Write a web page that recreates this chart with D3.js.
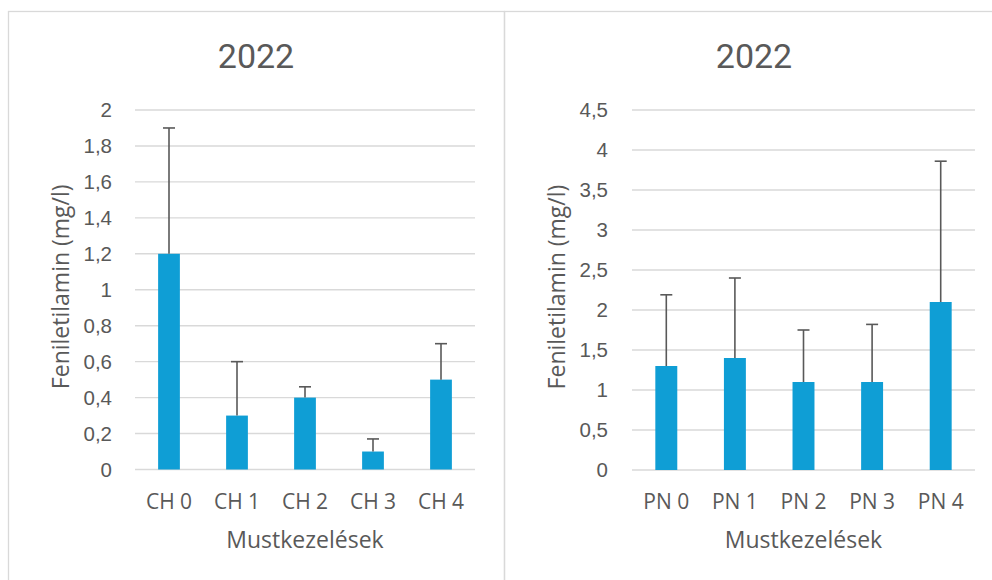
<!DOCTYPE html>
<html><head><meta charset="utf-8">
<script src="https://cdn.jsdelivr.net/npm/d3@7"></script>
<style>html,body{margin:0;padding:0;background:#fff;}svg{display:block;}</style>
</head><body>
<svg id="c" width="992" height="580"></svg>
<script>
const chTitle = "2022";
const pnTitle = "2022";
const yTitle = "Feniletilamin (mg/l)";
const xTitle = "Mustkezelések";

const chCategories = ["CH 0", "CH 1", "CH 2", "CH 3", "CH 4"];
const chValues = [1.2, 0.3, 0.4, 0.1, 0.5];
const chErrTop = [1.9, 0.6, 0.46, 0.17, 0.7];
const chTicks = [0, 0.2, 0.4, 0.6, 0.8, 1, 1.2, 1.4, 1.6, 1.8, 2];

const pnCategories = ["PN 0", "PN 1", "PN 2", "PN 3", "PN 4"];
const pnValues = [1.3, 1.4, 1.1, 1.1, 2.1];
const pnErrTop = [2.19, 2.4, 1.75, 1.82, 3.86];
const pnTicks = [0, 0.5, 1, 1.5, 2, 2.5, 3, 3.5, 4, 4.5];

const svg = d3.select("#c");
const fmt = v => String(v).replace(".", ",");
const GRID = "#d9d9d9", TXT = "#595959", BAR = "#0f9ed5", ERR = "#595959";

// panel borders
svg.append("rect").attr("x", 8.5).attr("y", 11.5).attr("width", 496).attr("height", 600)
  .attr("fill", "none").attr("stroke", GRID).attr("stroke-width", 1.3);
svg.append("rect").attr("x", 504.5).attr("y", 11.5).attr("width", 520).attr("height", 600)
  .attr("fill", "none").attr("stroke", GRID).attr("stroke-width", 1.3);

function panel(o) {
  const g = svg.append("g");
  const x = d3.scaleBand().domain(o.cats).range([o.x0, o.x1]).paddingInner(0.68).paddingOuter(0.34);
  const y = d3.scaleLinear().domain([0, o.ticks[o.ticks.length - 1]]).range([o.yb, o.yt]);

  // gridlines
  g.append("g").selectAll("line").data(o.ticks).join("line")
    .attr("x1", o.x0).attr("x2", o.x1)
    .attr("y1", d => y(d)).attr("y2", d => y(d))
    .attr("stroke", GRID).attr("stroke-width", 1.4);

  // y axis tick labels
  const ya = d3.axisLeft(y).tickValues(o.ticks).tickFormat(fmt).tickSize(0).tickPadding(0);
  const yg = g.append("g").attr("transform", `translate(${o.labX},0)`).call(ya);
  yg.select(".domain").remove();
  yg.selectAll("text").attr("fill", TXT).style("font-family", "'Liberation Sans', Arial, sans-serif").style("font-size", "20.5px");

  // bars
  g.append("g").selectAll("rect").data(o.vals).join("rect")
    .attr("x", (d, i) => x(o.cats[i])).attr("width", x.bandwidth())
    .attr("y", d => y(d)).attr("height", d => y(0) - y(d))
    .attr("fill", BAR);

  // error bars
  const eg = g.append("g").attr("stroke", ERR).attr("stroke-width", 1.6);
  eg.selectAll("line.v").data(o.err).join("line").attr("class", "v")
    .attr("x1", (d, i) => x(o.cats[i]) + x.bandwidth() / 2)
    .attr("x2", (d, i) => x(o.cats[i]) + x.bandwidth() / 2)
    .attr("y1", (d, i) => y(o.vals[i])).attr("y2", d => y(d));
  eg.selectAll("line.c").data(o.err).join("line").attr("class", "c")
    .attr("x1", (d, i) => x(o.cats[i]) + x.bandwidth() / 2 - 6)
    .attr("x2", (d, i) => x(o.cats[i]) + x.bandwidth() / 2 + 6)
    .attr("y1", d => y(d)).attr("y2", d => y(d));

  // x axis labels
  const xa = d3.axisBottom(x).tickSize(0).tickPadding(0);
  const xg = g.append("g").attr("transform", `translate(0,${o.yb + 39})`).call(xa);
  xg.select(".domain").remove();
  xg.selectAll("text").attr("fill", TXT).attr("dy", 0)
    .style("font-family", "'Open Sans', sans-serif").style("font-size", "21px");

  // titles
  g.append("text").attr("x", (o.x0 + o.x1) / 2).attr("y", o.yb + 78).attr("text-anchor", "middle")
    .attr("fill", TXT).style("font-family", "'Open Sans', sans-serif").style("font-size", "23px").text(xTitle);
  g.append("text").attr("transform", `translate(${o.ytX},${(o.yt + o.yb) / 2 - 3}) rotate(-90)`)
    .attr("text-anchor", "middle").attr("fill", TXT)
    .style("font-family", "'Open Sans', sans-serif").style("font-size", "23px").text(yTitle);
  g.append("text").attr("x", o.titleX).attr("y", 68).attr("text-anchor", "middle")
    .attr("fill", TXT).style("font-family", "Roboto, sans-serif").style("font-size", "34px").text(o.title);
}

panel({cats: chCategories, vals: chValues, err: chErrTop, ticks: chTicks, title: chTitle,
  x0: 135, x1: 475, yt: 110, yb: 469.5, labX: 112, ytX: 69, titleX: 256});
panel({cats: pnCategories, vals: pnValues, err: pnErrTop, ticks: pnTicks, title: pnTitle,
  x0: 632, x1: 975, yt: 110, yb: 470, labX: 608, ytX: 565, titleX: 754});
</script>
</body></html>
